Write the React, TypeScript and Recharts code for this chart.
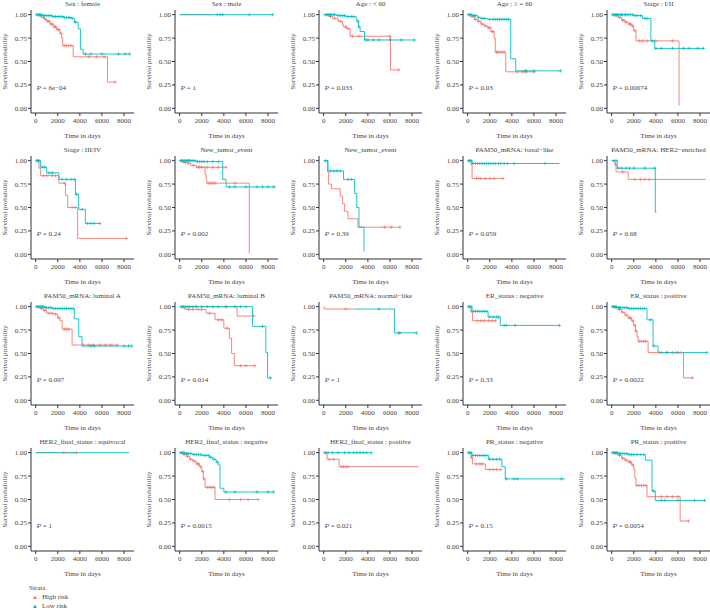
import { ComposedChart, Line, Scatter, XAxis, YAxis, ReferenceDot } from "recharts"

const FONT = "'Liberation Serif', 'DejaVu Serif', serif"
const HIGH = "#F8766D"
const LOW = "#00BFC4"
const INK = "#444444"
const AXIS = "#333333"

const panelTitles = [
  "Sex : female", "Sex : male", "Age : < 60", "Age : \u2265 = 60", "Stage : I/II",
  "Stage : III/IV", "New_tumor_event", "New_tumor_event", "PAM50_mRNA: basal\u2212like", "PAM50_mRNA: HER2\u2212enriched",
  "PAM50_mRNA: luminal A", "PAM50_mRNA: luminal B", "PAM50_mRNA: normal\u2212like", "ER_status : negative", "ER_status : positive",
  "HER2_final_status : equivocal", "HER2_final_status : negative", "HER2_final_status : positive", "PR_status : negative", "PR_status : positive",
]

const pValues = [
  "6e\u221204", "1", "0.033", "0.03", "0.00074",
  "0.24", "0.002", "0.39", "0.059", "0.68",
  "0.097", "0.014", "1", "0.33", "0.0022",
  "1", "0.0015", "0.021", "0.15", "0.0054",
]

const xTicks = [0, 2000, 4000, 6000, 8000]
const yTicks = [0, 0.25, 0.5, 0.75, 1]

// [time, survival] at each drop, high risk group
const highSteps: number[][][] = [
  [[0, 1], [300, 0.99], [500, 0.97], [800, 0.95], [1000, 0.93], [1300, 0.9], [1600, 0.87], [1900, 0.84], [2200, 0.8], [2350, 0.75], [2450, 0.67], [3400, 0.55], [6500, 0.28], [7200, 0.28]],
  [[0, 1], [3000, 1]],
  [[0, 1], [500, 0.98], [800, 0.96], [1300, 0.93], [1700, 0.89], [1800, 0.87], [2100, 0.85], [2400, 0.77], [6050, 0.41], [6800, 0.41]],
  [[0, 1], [300, 0.98], [600, 0.95], [900, 0.93], [1200, 0.9], [1500, 0.88], [1800, 0.86], [2100, 0.82], [2400, 0.75], [2500, 0.6], [3450, 0.39], [6000, 0.39]],
  [[0, 1], [300, 0.99], [600, 0.97], [900, 0.94], [1200, 0.92], [1500, 0.9], [1800, 0.88], [2000, 0.83], [2200, 0.72], [6100, 0.03]],
  [[0, 1], [300, 0.92], [450, 0.84], [2100, 0.76], [2700, 0.63], [2900, 0.5], [3800, 0.17], [8200, 0.17]],
  [[0, 1], [300, 0.98], [700, 0.97], [1000, 0.95], [1500, 0.93], [2300, 0.85], [2400, 0.8], [2450, 0.76], [6300, 0.01]],
  [[0, 1], [350, 0.88], [450, 0.75], [700, 0.7], [1500, 0.62], [1700, 0.54], [1900, 0.46], [2200, 0.38], [3100, 0.29], [6900, 0.29]],
  [[0, 1], [300, 0.96], [400, 0.81], [3200, 0.81]],
  [[0, 1], [300, 0.96], [400, 0.88], [1500, 0.8], [8500, 0.8]],
  [[0, 1], [400, 0.98], [700, 0.96], [1000, 0.93], [1600, 0.92], [2000, 0.88], [2200, 0.85], [2400, 0.76], [3300, 0.59], [7400, 0.59]],
  [[0, 1], [400, 0.98], [500, 0.97], [2400, 0.93], [3200, 0.86], [4000, 0.77], [4500, 0.66], [4700, 0.5], [4950, 0.37], [6800, 0.37]],
  [[0, 1], [50, 0.975], [2900, 0.975]],
  [[0, 1], [300, 0.95], [450, 0.85], [2500, 0.85]],
  [[0, 1], [300, 0.99], [600, 0.97], [900, 0.94], [1200, 0.91], [1500, 0.88], [1800, 0.85], [2000, 0.8], [2150, 0.74], [2300, 0.68], [2400, 0.63], [3300, 0.51], [6500, 0.24], [7300, 0.24]],
  [[0, 1], [3700, 1]],
  [[0, 1], [300, 0.98], [600, 0.96], [900, 0.93], [1200, 0.91], [1500, 0.88], [1800, 0.85], [2000, 0.8], [2150, 0.72], [2300, 0.63], [3200, 0.5], [7100, 0.5]],
  [[0, 1], [300, 0.93], [1400, 0.85], [8600, 0.85]],
  [[0, 1], [300, 0.95], [450, 0.88], [1600, 0.82], [3000, 0.82]],
  [[0, 1], [300, 0.99], [600, 0.97], [900, 0.94], [1200, 0.92], [1500, 0.9], [1800, 0.87], [2000, 0.82], [2100, 0.73], [2200, 0.65], [3200, 0.53], [6200, 0.27], [6950, 0.27]],
]

// censoring times, high risk group
const highCensor: number[][] = [
  [400, 700, 900, 1100, 1200, 1400, 1500, 1700, 1800, 2000, 2100, 2300, 2600, 2800, 3000, 3200, 4800, 5500, 6200, 7200],
  [],
  [600, 1000, 1500, 2000, 2200, 2600, 3200, 6000, 6800],
  [400, 700, 1000, 1300, 1600, 1900, 2000, 2200, 2300, 2600, 2700, 2900, 3100, 3300, 4500, 5000, 5300, 6000],
  [400, 700, 1000, 1100, 1300, 1600, 1700, 1900, 2100, 2500, 2800, 3200, 4000, 5500],
  [200, 700, 1000, 1500, 1800, 2600, 3300, 3600, 8200],
  [200, 500, 800, 1200, 1800, 2600, 2800, 3000, 3200, 5000],
  [5500, 6100, 6900],
  [800, 1000, 1200, 1600, 2000, 2400, 3200],
  [350, 1000, 2100, 2600, 3000, 3400],
  [500, 800, 1200, 1500, 1800, 2100, 2600, 2800, 3000, 4300, 4800, 5200, 5800, 6300, 6800, 7400],
  [300, 800, 1200, 1700, 2000, 2700, 3500, 3800, 4300, 5500, 6000, 6800],
  [2000],
  [350, 900, 1200, 1500, 1900, 2200, 2500],
  [400, 700, 1000, 1300, 1600, 1700, 1900, 2100, 2200, 2500, 2700, 2900, 3100, 4300, 5000, 5800, 6300, 7300],
  [2550, 3700],
  [400, 700, 1000, 1300, 1600, 1700, 1900, 2100, 2200, 2500, 2700, 2900, 3100, 4500, 5500, 6200, 7100],
  [100, 500, 900, 1600, 1800, 2000, 2200],
  [350, 800, 1100, 1300, 2000, 2300, 2600, 3000],
  [400, 700, 1000, 1300, 1600, 1700, 1900, 2300, 2500, 2700, 2900, 3100, 4500, 5000, 5500, 6000, 6950],
]

// second high risk trace seen in two panels (index -> steps / censoring)
const extraHighSteps: Record<number, number[][]> = {
  6: [[1500, 0.93], [4200, 0.93]],
  11: [[0, 1], [5200, 0.9], [6700, 0.9]],
}
const extraHighCensor: Record<number, number[]> = {
  6: [1700, 2000, 2500, 3000, 3500, 4200],
  11: [1500, 4200, 6700],
}

const lowSteps: number[][][] = [
  [[0, 1], [600, 0.99], [1500, 0.98], [2500, 0.97], [3300, 0.96], [3500, 0.92], [3850, 0.85], [4050, 0.63], [4300, 0.58], [8500, 0.58]],
  [[0, 1], [8400, 1]],
  [[0, 1], [1200, 0.99], [2000, 0.98], [2900, 0.97], [3000, 0.93], [3150, 0.87], [3300, 0.82], [3700, 0.73], [8200, 0.73]],
  [[0, 1], [400, 0.99], [900, 0.97], [1200, 0.96], [1800, 0.95], [3900, 0.53], [4350, 0.4], [8400, 0.4]],
  [[0, 1], [2000, 0.99], [2800, 0.96], [3550, 0.72], [3900, 0.64], [8300, 0.64]],
  [[0, 1], [450, 0.93], [1000, 0.87], [2100, 0.8], [3600, 0.64], [3900, 0.48], [4500, 0.33], [5800, 0.33]],
  [[0, 1], [1500, 0.99], [3900, 0.8], [4200, 0.72], [8700, 0.72]],
  [[0, 1], [400, 0.89], [1800, 0.8], [2800, 0.65], [3000, 0.5], [3200, 0.29], [3650, 0.03]],
  [[0, 1], [400, 0.97], [8300, 0.97]],
  [[0, 1], [500, 0.92], [3950, 0.45], [4050, 0.45]],
  [[0, 1], [800, 0.99], [1500, 0.98], [3500, 0.87], [3900, 0.68], [4200, 0.58], [8700, 0.58]],
  [[0, 1], [6600, 0.79], [7800, 0.51], [7950, 0.24], [8300, 0.24]],
  [[2900, 0.975], [6400, 0.72], [8400, 0.72]],
  [[0, 1], [400, 0.95], [1850, 0.89], [2950, 0.8], [8300, 0.8]],
  [[0, 1], [500, 0.99], [1500, 0.98], [3200, 0.86], [3750, 0.58], [4200, 0.51], [8600, 0.51]],
  [[0, 1], [8450, 1]],
  [[0, 1], [500, 0.99], [1200, 0.98], [2000, 0.97], [2700, 0.95], [3000, 0.93], [3300, 0.9], [3500, 0.87], [3650, 0.62], [4000, 0.58], [8500, 0.58]],
  [[0, 1], [4300, 1]],
  [[0, 1], [400, 0.97], [1900, 0.93], [3100, 0.85], [3400, 0.72], [8800, 0.72]],
  [[0, 1], [600, 0.99], [1500, 0.98], [3050, 0.92], [3650, 0.59], [3950, 0.49], [8450, 0.49]],
]

const lowCensor: number[][] = [
  [100, 200, 300, 400, 500, 700, 800, 1000, 1200, 1400, 1600, 1800, 2000, 2200, 2400, 2600, 2800, 3000, 3100, 3300, 3600, 4500, 5000, 6000, 7500, 8100, 8500],
  [3400, 3700, 3900, 6300, 8400],
  [200, 300, 400, 500, 600, 700, 900, 1000, 1300, 1500, 1700, 1900, 2200, 2500, 2700, 3100, 3200, 3800, 4000, 4500, 5000, 6000, 7000, 8200],
  [100, 200, 300, 500, 600, 700, 1000, 1300, 1500, 2000, 2300, 2500, 2700, 2900, 3100, 3300, 3500, 3700, 5200, 5300, 6000, 8400],
  [100, 200, 300, 400, 500, 600, 800, 900, 1000, 1200, 1300, 1500, 1700, 1900, 2100, 2300, 2600, 3000, 3200, 3700, 4000, 4500, 5500, 6500, 7000, 7800, 8300],
  [100, 200, 300, 600, 800, 1200, 1500, 2400, 2800, 3200, 3500, 3700, 4200, 4700, 5000, 5300, 5800],
  [100, 200, 300, 400, 500, 600, 700, 800, 900, 1000, 1200, 1400, 1600, 1800, 2000, 2200, 2500, 3000, 3500, 4500, 5000, 6000, 7000, 7500, 8000, 8500],
  [200, 600, 900, 1200, 1500, 2200, 2500],
  [100, 200, 300, 500, 700, 900, 1100, 1300, 1500, 1700, 1900, 2100, 2300, 2500, 2800, 3000, 3300, 3600, 4200, 7000],
  [200, 400, 600, 900, 1300, 1600, 2000, 3000, 3900],
  [100, 200, 300, 400, 500, 600, 700, 900, 1000, 1200, 1400, 1600, 1800, 2000, 2200, 2400, 2600, 2800, 3000, 3200, 3400, 5000, 5300, 8000, 8400, 8700],
  [200, 300, 500, 700, 900, 1200, 1500, 2000, 2500, 3000, 3500, 4200, 5000, 5500, 6000, 7500, 8200],
  [5000, 6800, 6900, 8400],
  [100, 200, 300, 500, 700, 900, 1100, 1300, 1500, 1700, 2000, 2300, 2600, 2800, 3300, 3500, 4300, 8300],
  [100, 200, 300, 400, 600, 700, 800, 1000, 1200, 1400, 1600, 1800, 2000, 2200, 2400, 2600, 2800, 3000, 3500, 3800, 4500, 5000, 5500, 6000, 8600],
  [],
  [100, 200, 300, 400, 600, 700, 800, 1000, 1300, 1500, 1700, 1900, 2200, 2400, 2600, 2800, 3100, 3400, 4200, 5000, 7000, 8000, 8500],
  [200, 400, 800, 1300, 1900, 2300, 2700, 3000, 3300, 3600, 3900, 4300],
  [100, 200, 300, 500, 700, 900, 1100, 1300, 1500, 1700, 2000, 2300, 2600, 2900, 3500, 4200, 4500, 8500],
  [100, 200, 300, 400, 500, 700, 800, 1000, 1200, 1400, 1600, 1800, 2000, 2300, 2600, 2900, 3800, 4500, 4800, 6000, 7500, 8400],
]

const legendItems = [
  { name: "High risk", color: HIGH },
  { name: "Low risk", color: LOW },
]

// survival value of a step curve at time t (censor marks sit on the curve)
function survAt(steps: number[][], t: number) {
  let s = steps[0][1]
  for (const [time, val] of steps) {
    if (time <= t) s = val
  }
  return s
}

const toRows = (steps: number[][]) => steps.map(([t, s]) => ({ t, s }))
const toMarks = (steps: number[][], times: number[]) => times.map((t) => ({ t, s: survAt(steps, t) }))

const plusShape = (color: string) => (props: any) => {
  const { cx, cy } = props
  if (cx == null || cy == null) return <g />
  return <path d={`M${cx - 1.7},${cy}h3.4M${cx},${cy - 1.7}v3.4`} stroke={color} strokeWidth={0.7} fill="none" />
}

const PLabel = (props: any) => {
  const vb = props.viewBox || {}
  return (
    <text x={vb.x} y={vb.y} dy="0.35em" fontSize={7} fill={INK}>
      <tspan fontStyle="italic">P</tspan>
      <tspan> = {props.text}</tspan>
    </text>
  )
}

function Panel({ i }: { i: number }) {
  const col = i % 5
  const row = Math.floor(i / 5)
  const extra = extraHighSteps[i]
  return (
    <div style={{ position: "absolute", left: col * 144, top: row * 146, width: 144, height: 146 }}>
      <div
        style={{
          position: "absolute", left: 31, top: 0, width: 103, textAlign: "center",
          fontSize: 7, lineHeight: "9px", color: INK, whiteSpace: "nowrap",
        }}
      >
        {panelTitles[i]}
      </div>
      <ComposedChart width={144} height={146} margin={{ top: 10, right: 10, bottom: 3, left: 2 }}>
        <XAxis
          type="number"
          dataKey="t"
          domain={[-420, 8900]}
          ticks={xTicks}
          allowDataOverflow
          height={30}
          tickSize={3}
          tickMargin={2}
          tick={{ fontSize: 7, fill: INK }}
          stroke={AXIS}
          label={{ value: "Time in days", position: "insideBottom", offset: 5, style: { fontSize: 7, fill: INK } }}
        />
        <YAxis
          type="number"
          dataKey="s"
          domain={[-0.05, 1.05]}
          ticks={yTicks}
          allowDataOverflow
          width={29}
          tickSize={3}
          tickMargin={1}
          tick={{ fontSize: 7, fill: INK }}
          stroke={AXIS}
          tickFormatter={(v: number) => v.toFixed(2)}
          label={{
            value: "Survival probability", angle: -90, position: "insideLeft", offset: 3,
            style: { fontSize: 7, fill: INK, textAnchor: "middle" },
          }}
        />
        <Line data={toRows(highSteps[i])} dataKey="s" type="stepAfter" stroke={HIGH} strokeWidth={0.9} dot={false} isAnimationActive={false} />
        {extra && (
          <Line data={toRows(extra)} dataKey="s" type="stepAfter" stroke={HIGH} strokeWidth={0.9} dot={false} isAnimationActive={false} />
        )}
        <Line data={toRows(lowSteps[i])} dataKey="s" type="stepAfter" stroke={LOW} strokeWidth={0.9} dot={false} isAnimationActive={false} />
        <Scatter data={toMarks(highSteps[i], highCensor[i])} dataKey="s" shape={plusShape(HIGH)} isAnimationActive={false} />
        {extra && (
          <Scatter data={toMarks(extra, extraHighCensor[i])} dataKey="s" shape={plusShape(HIGH)} isAnimationActive={false} />
        )}
        <Scatter data={toMarks(lowSteps[i], lowCensor[i])} dataKey="s" shape={plusShape(LOW)} isAnimationActive={false} />
        <ReferenceDot x={100} y={0.22} r={0.01} fill="none" stroke="none" ifOverflow="visible" label={<PLabel text={pValues[i]} />} />
      </ComposedChart>
    </div>
  )
}

export default function App() {
  return (
    <div
      style={{
        position: "absolute", left: 0, top: 0, width: 710, height: 610,
        background: "#fff", fontFamily: FONT, overflow: "hidden",
      }}
    >
      {panelTitles.map((_, i) => (
        <Panel key={i} i={i} />
      ))}
      <div style={{ position: "absolute", left: 29, top: 584, fontSize: 7, lineHeight: "9px", color: INK }}>
        <div>Strata</div>
        {legendItems.map((it) => (
          <div key={it.name} style={{ display: "flex", alignItems: "center" }}>
            <svg width={12} height={9}>
              <path d="M6,2.5 L8,6 L4,6 Z" fill={it.color} />
            </svg>
            <span style={{ marginLeft: 1 }}>{it.name}</span>
          </div>
        ))}
      </div>
    </div>
  )
}
